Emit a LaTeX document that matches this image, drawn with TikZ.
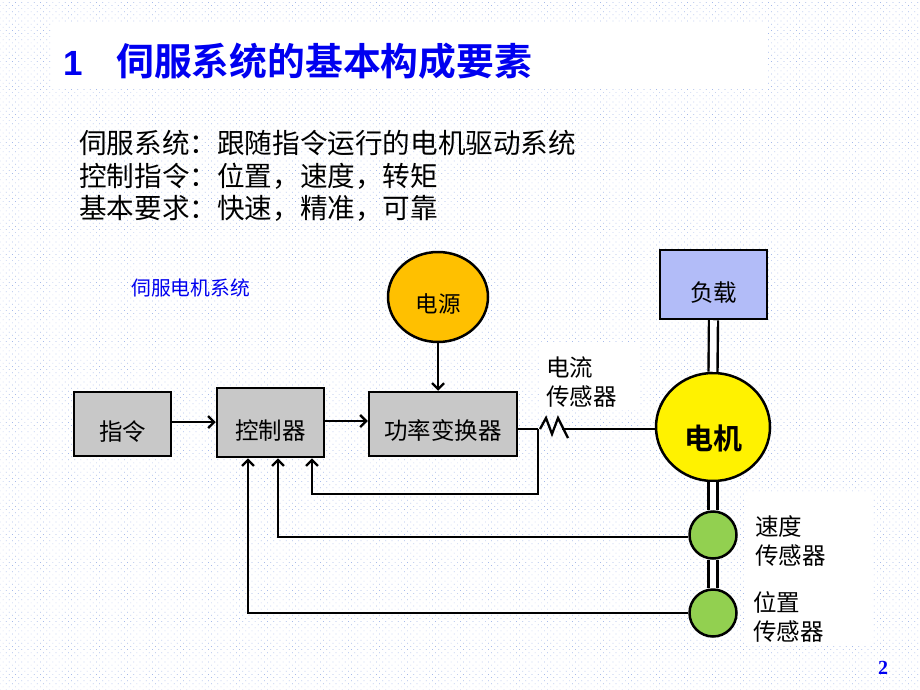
\documentclass[tikz,border=0pt]{standalone}
\usepackage{fontspec}
\setmainfont{Liberation Sans}
\newfontfamily\serifnum{Liberation Serif}
\newfontfamily\cjk{Noto Sans CJK SC}[BoldFont={Noto Sans CJK SC Bold}]
\usetikzlibrary{arrows.meta,shapes.geometric,patterns.meta}
\newcommand{\lowtxt}[2]{\raisebox{-#1pt}[\height][\depth]{#2}}
\definecolor{dotblue}{RGB}{165,185,235}
\definecolor{boxgray}{RGB}{200,200,200}
\definecolor{srcorange}{RGB}{255,192,0}
\definecolor{loadblue}{RGB}{178,188,248}
\definecolor{sensgreen}{RGB}{146,208,80}
\definecolor{titleblue}{RGB}{0,0,240}
\tikzset{
  blockbox/.style={draw=black, line width=2.5pt, fill=boxgray, font=\cjk\fontsize{23.5}{26}\selectfont, inner sep=0pt},
  roundbox/.style={draw=black, line width=2.5pt, ellipse, inner sep=0pt},
  arr/.style={draw=black, line width=2.3pt, -{Straight Barb[length=6pt,width=12pt]}},
  plain/.style={draw=black, line width=2.3pt},
  dbl/.style={draw=black, line width=2.4pt, double=white, double distance=6.6pt},
  lbl/.style={font=\cjk\fontsize{23.5}{28.5}\selectfont, align=left, inner sep=0pt},
  bodytxt/.style={font=\cjk\fontsize{27.6}{32}\selectfont, anchor=west, inner sep=0pt},
  whitebg/.style={fill=white, draw=none}
}
\begin{document}
\begin{tikzpicture}[x=1pt,y=-1pt]
\useasboundingbox (0,0) rectangle (920,690);
% background with dots
\fill[white] (0,0) rectangle (920,690);
\fill[pattern={Dots[distance=4.4pt, angle=45, radius=0.5pt]}, pattern color=dotblue] (0,0) rectangle (920,690);
% white areas
\fill[whitebg] (52,22) rectangle (767,88);
\fill[whitebg] (541,344) rectangle (640,410);
\fill[whitebg] (744,493) rectangle (873,645);

% title
\node[anchor=west, inner sep=0pt, text=titleblue, font=\bfseries\fontsize{35}{38}\selectfont] (tnum) at (63,63) {1};
\node[anchor=west, inner sep=0pt, text=titleblue, font=\cjk\bfseries\fontsize{37.8}{40}\selectfont] (title) at (116,61) {伺服系统的基本构成要素};

% body text
\node[bodytxt] (l1) at (79,143) {伺服系统：跟随指令运行的电机驱动系统};
\node[bodytxt] (l2) at (79,176) {控制指令：位置，速度，转矩};
\node[bodytxt] (l3) at (79,208) {基本要求：快速，精准，可靠};

\node[anchor=west, inner sep=0pt, text=titleblue, font=\cjk\fontsize{19.8}{22}\selectfont] (sub) at (131,288) {伺服电机系统};

% blocks
\node[blockbox, minimum width=97pt, minimum height=64pt] (cmd) at (122.5,424) {\lowtxt{8}{指令}};
\node[blockbox, minimum width=107pt, minimum height=69pt] (ctrl) at (270.5,422.5) {\lowtxt{8}{控制器}};
\node[blockbox, minimum width=148pt, minimum height=64pt] (pc) at (443,424) {\lowtxt{6}{功率变换器}};
\node[roundbox, fill=srcorange, minimum width=100pt, minimum height=90pt, font=\cjk\fontsize{22.5}{25}\selectfont] (src) at (438,297) {\lowtxt{7}{电源}};
\node[blockbox, fill=loadblue, minimum width=107pt, minimum height=69pt] (load) at (713.5,284.5) {\lowtxt{8}{负载}};
\node[roundbox, fill=yellow, minimum width=114pt, minimum height=108pt, font=\cjk\bfseries\fontsize{29}{32}\selectfont] (motor) at (713,427) {\lowtxt{11}{电机}};
\node[roundbox, circle, fill=sensgreen, minimum size=47pt] (spd) at (713,535) {};
\node[roundbox, circle, fill=sensgreen, minimum size=47pt] (pos) at (713,613) {};

% labels
\node[lbl, anchor=west] (cslbl) at (546,382) {电流\\传感器};
\node[lbl, anchor=west] (spdlbl) at (755,541) {速度\\传感器};
\node[lbl, anchor=west] (poslbl) at (753,617) {位置\\传感器};

% shaft double lines
\draw[dbl] (load.south) -- (motor.north);
\draw[dbl] (motor.south) -- (spd.north);
\draw[dbl] (spd.south) -- (pos.north);

% forward path
\draw[arr] (cmd.east |- 0,422) -- (ctrl.west |- 0,422);
\draw[arr] (ctrl.east |- 0,421) -- (pc.west |- 0,421);
\draw[arr] (src.south) -- (src.south |- pc.north);

% current line with sensor
\coordinate (cs) at (538,429);
\coordinate (zz) at (562,429);
\draw[plain] (pc.east |- cs) -- (cs);
\draw[plain, line join=miter] (540,429) -- (546,418) -- (552,434) -- (558,418) -- (568,438);
\draw[plain] (zz) -- (motor.west |- zz);

% feedback paths
\draw[arr] (cs) -- (538,494) -| ([xshift=41.5pt]ctrl.south);
\draw[arr] (spd.west |- 0,537) -| ([xshift=7.5pt]ctrl.south);
\draw[arr] (pos.west) -| ([xshift=-22.5pt]ctrl.south);

% page number
\node[inner sep=0pt, text=titleblue, font=\serifnum\bfseries\fontsize{20}{22}\selectfont] (pg) at (883,668) {2};
\end{tikzpicture}
\end{document}
